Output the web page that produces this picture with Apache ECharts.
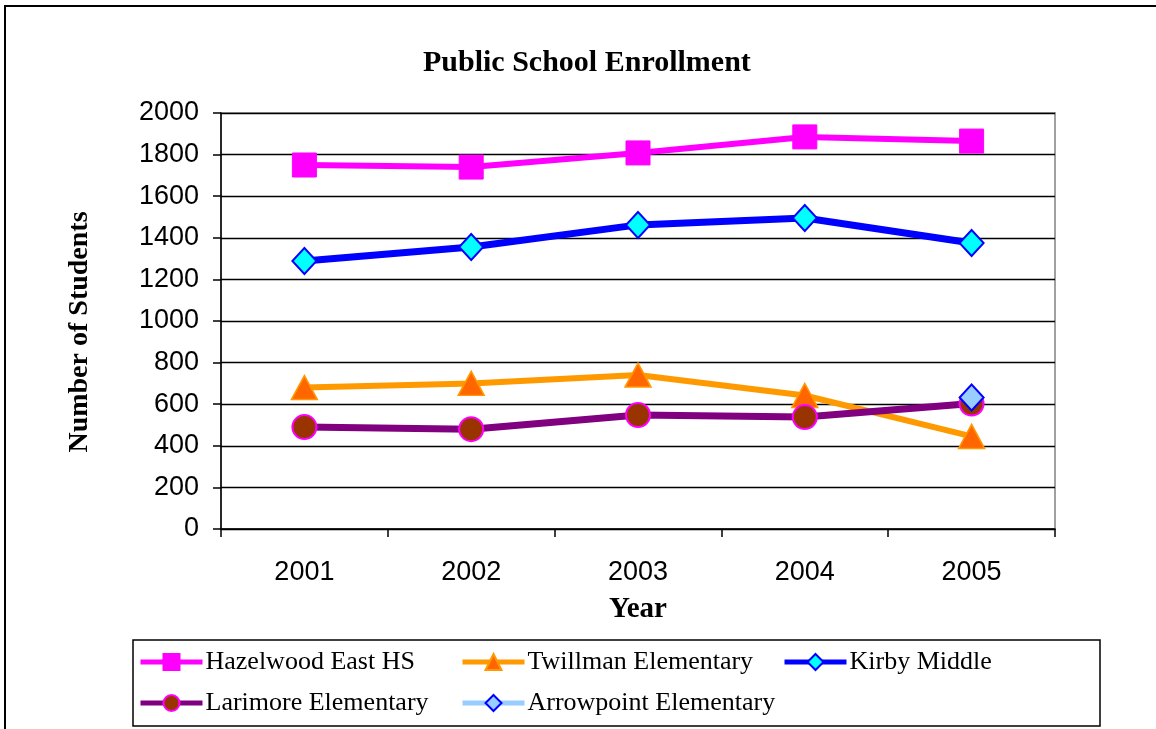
<!DOCTYPE html>
<html><head><meta charset="utf-8">
<script src="https://cdn.jsdelivr.net/npm/echarts@6/dist/echarts.min.js"></script>
<style>html,body{margin:0;padding:0;background:#fff}#c{width:1156px;height:729px}</style>
</head><body><div id="c"></div>
<script>
const years = ['2001','2002','2003','2004','2005'];
const hazelwood = [1750, 1740, 1808, 1885, 1865];
const twillman = [680, 700, 740, 642, 445];
const kirby = [1288, 1356, 1462, 1495, 1375];
const larimore = [490, 480, 548, 538, 603];
const arrowpoint = [null, null, null, null, 632];
const seriesNames = ['Hazelwood East HS','Twillman Elementary','Kirby Middle','Larimore Elementary','Arrowpoint Elementary'];

const serif = 'Liberation Serif, Times New Roman, serif';
const sans = 'Liberation Sans, Arial, sans-serif';
const chart = echarts.init(document.getElementById('c'));

function legendAt(name, left, top){
  return {data:[name], left:left, top:top, itemWidth:62, itemHeight:20, itemGap:0,
    lineStyle:{width:5},
    textStyle:{fontFamily:serif, fontSize:26, color:'#000', padding:[0,0,0,-2]}, padding:0};
}

chart.setOption({
  animation:false,
  title:{text:'Public School Enrollment', left:418, top:43,
    textStyle:{fontFamily:serif, fontSize:30, fontWeight:'bold', color:'#000'}},
  graphic:[
    {type:'rect', shape:{x:5, y:6, width:1300, height:900}, style:{fill:'none', stroke:'#000', lineWidth:2}, silent:true, z:-10},
    {type:'rect', shape:{x:133, y:640, width:967, height:86}, style:{fill:'#fff', stroke:'#000', lineWidth:1.5}, silent:true, z:-5},
    {type:'text', x:80, y:332, rotation:Math.PI/2, silent:true,
      style:{text:'Number of Students', font:'bold 28px '+serif, fill:'#000', align:'center', verticalAlign:'middle'}}
  ],
  legend:[
    legendAt(seriesNames[0],138,649),
    legendAt(seriesNames[1],460,649),
    legendAt(seriesNames[2],782,649),
    legendAt(seriesNames[3],138,690),
    legendAt(seriesNames[4],460,690)
  ],
  grid:{left:221, top:113, right:101, bottom:200, show:true, borderColor:'#A0A0A0', borderWidth:2, containLabel:false},
  xAxis:{type:'category', data:years, boundaryGap:true,
    name:'Year', nameLocation:'middle', nameGap:66,
    nameTextStyle:{fontFamily:serif, fontSize:29, fontWeight:'bold', color:'#000'},
    axisLine:{lineStyle:{color:'#000', width:1.5}},
    axisTick:{show:true, length:8, lineStyle:{color:'#000', width:1.5}},
    axisLabel:{fontFamily:sans, fontSize:27, color:'#000', margin:30},
    splitLine:{show:false}},
  yAxis:{type:'value', min:0, max:2000, interval:200,
    axisLine:{show:true, lineStyle:{color:'#000', width:1.5}},
    axisTick:{show:true, length:8, lineStyle:{color:'#000', width:1.5}},
    axisLabel:{fontFamily:sans, fontSize:27, color:'#000', margin:22, formatter:function(v){return String(v);}},
    splitLine:{show:true, lineStyle:{color:'#000', width:1.3}}},
  series:[
    {name:seriesNames[0], type:'line', data:hazelwood, symbol:'rect', symbolSize:24,
      lineStyle:{color:'#FF00FF', width:6}, itemStyle:{color:'#FF00FF', borderColor:'#FF00FF', borderWidth:1}},
    {name:seriesNames[1], type:'line', data:twillman, symbol:'triangle', symbolSize:[26,24],
      lineStyle:{color:'#FF9900', width:6}, itemStyle:{color:'#FF6600', borderColor:'#FF9900', borderWidth:1.5}},
    {name:seriesNames[2], type:'line', data:kirby, symbol:'diamond', symbolSize:[24,26],
      lineStyle:{color:'#0000FF', width:7}, itemStyle:{color:'#00FFFF', borderColor:'#0000FF', borderWidth:2}},
    {name:seriesNames[3], type:'line', data:larimore, symbol:'circle', symbolSize:24,
      lineStyle:{color:'#800080', width:7}, itemStyle:{color:'#993300', borderColor:'#FF00FF', borderWidth:2}},
    {name:seriesNames[4], type:'line', data:arrowpoint, symbol:'diamond', symbolSize:[24,26], showSymbol:true,
      lineStyle:{color:'#99CCFF', width:6}, itemStyle:{color:'#99CCFF', borderColor:'#0000FF', borderWidth:2}}
  ]
});
</script></body></html>
